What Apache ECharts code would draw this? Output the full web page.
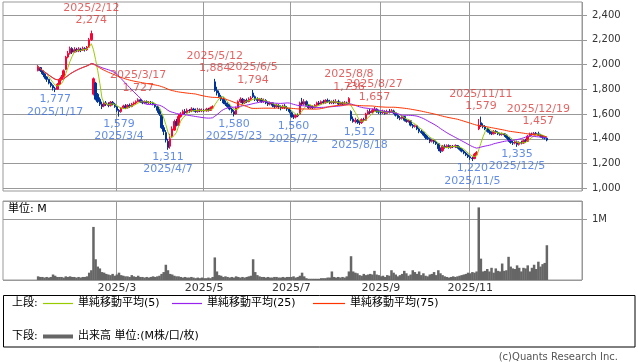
<!DOCTYPE html>
<html><head><meta charset="utf-8">
<script src="https://cdn.jsdelivr.net/npm/echarts@6/dist/echarts.min.js"></script>
<style>html,body{margin:0;padding:0;background:#fff}#c{width:638px;height:362px}</style>
</head><body><div id="c"></div>
<script>
// Trading days of 2025 per month (Jan..Dec)
const monthDays = [
 [6,7,8,9,10,14,15,16,17,20,21,22,23,24,27,28,29,30,31],
 [3,4,5,6,7,10,12,13,14,17,18,19,20,21,25,26,27,28],
 [3,4,5,6,7,10,11,12,13,14,17,18,19,21,24,25,26,27,28,31],
 [1,2,3,4,7,8,9,10,11,14,15,16,17,18,21,22,23,24,25,28,30],
 [1,2,7,8,9,12,13,14,15,16,19,20,21,22,23,26,27,28,29,30],
 [2,3,4,5,6,9,10,11,12,13,16,17,18,19,20,23,24,25,26,27,30],
 [1,2,3,4,7,8,9,10,11,14,15,16,17,18,22,23,24,25,28,29,30,31],
 [1,4,5,6,7,8,12,13,14,15,18,19,20,21,22,25,26,27,28,29],
 [1,2,3,4,5,8,9,10,11,12,16,17,18,19,22,24,25,26,29,30],
 [1,2,3,6,7,8,9,10,14,15,16,17,20,21,22,23,24,27,28,29,30,31],
 [4,5,6,7,10,11,12,13,14,17,18,19,20,21,25,26,27,28],
 [1,2,3,4,5,8,9,10,11,12,15,16,17,18,19,22,23,24,25]
];
const xTickLabels = ['2025/3','2025/5','2025/7','2025/9','2025/11'];
const priceTicks = [1000,1200,1400,1600,1800,2000,2200,2400];

const opens = [
 1950,1975,1950,1925,1900,1880,1850,1830,1805,1800,1840,1880,1900,1960,2060,2090,2130,2100,2120,
 2110,2125,2115,2130,2120,2140,2200,1760,1850,1760,1720,1680,1665,1690,1680,1670,1695,1680,
 1660,1630,1620,1650,1665,1650,1670,1660,1680,1690,1700,1715,1700,1690,1700,1690,1695,1690,1680,1660,
 1630,1590,1490,1450,1380,1340,1420,1470,1540,1510,1580,1600,1620,1610,1630,1625,1640,1630,1620,1635,1625,
 1630,1625,1640,1630,1650,1860,1790,1770,1740,1720,1690,1680,1660,1640,1620,1600,1650,1700,1720,1690,
 1710,1700,1720,1770,1740,1720,1710,1720,1700,1710,1690,1680,1690,1670,1660,1670,1660,1650,1665,1650,1640,
 1610,1580,1575,1590,1600,1700,1680,1700,1670,1650,1660,1650,1670,1690,1680,1700,1690,1710,1700,1690,1700,1690,
 1700,1680,1690,1680,1690,1685,1620,1560,1540,1550,1535,1530,1555,1550,1600,1620,1610,1630,1640,1620,
 1615,1610,1620,1605,1620,1615,1625,1610,1590,1570,1565,1580,1550,1540,1545,1510,1500,1505,1480,1460,
 1450,1430,1410,1400,1380,1390,1375,1360,1320,1305,1340,1335,1345,1330,1340,1335,1345,1330,1315,1300,1285,1270,
 1255,1245,1240,1275,1480,1530,1505,1500,1480,1460,1450,1440,1460,1450,1440,1435,1440,1430,
 1410,1390,1370,1365,1375,1355,1370,1365,1385,1380,1420,1440,1435,1445,1440,1430,1420,1410,1405
];
const closes = [
 1985,1950,1925,1900,1880,1850,1830,1810,1800,1840,1880,1900,1950,2060,2090,2130,2100,2120,2110,
 2125,2115,2130,2120,2140,2200,2250,1885,1720,1700,1680,1660,1690,1680,1670,1695,1680,1660,
 1630,1620,1650,1665,1650,1670,1660,1680,1690,1700,1715,1700,1690,1700,1690,1695,1690,1680,1660,1630,
 1600,1490,1460,1390,1330,1400,1480,1540,1510,1580,1600,1620,1610,1630,1625,1640,1630,1620,1635,1625,1630,
 1625,1640,1630,1650,1660,1790,1770,1740,1720,1690,1680,1660,1640,1620,1600,1650,1700,1720,1690,1710,
 1700,1720,1730,1740,1720,1710,1720,1700,1710,1690,1680,1690,1670,1660,1670,1660,1650,1665,1650,1640,1620,
 1580,1575,1590,1585,1690,1680,1700,1670,1650,1660,1650,1670,1690,1680,1700,1690,1710,1700,1690,1700,1690,1700,
 1680,1690,1680,1690,1685,1725,1560,1540,1550,1535,1530,1555,1550,1600,1620,1610,1630,1640,1620,1615,
 1610,1620,1605,1620,1615,1625,1610,1590,1570,1565,1580,1550,1540,1545,1510,1500,1505,1480,1460,1450,
 1430,1410,1400,1380,1390,1375,1360,1320,1300,1340,1335,1345,1330,1340,1335,1345,1330,1315,1300,1285,1270,1255,
 1245,1240,1275,1290,1510,1505,1500,1480,1460,1450,1440,1460,1450,1440,1435,1440,1430,1410,
 1390,1370,1365,1375,1355,1370,1365,1385,1380,1420,1440,1435,1445,1440,1430,1420,1410,1405,1390
];
const lows = [
 1945,1940,1915,1885,1860,1840,1815,1790,1777,1795,1835,1870,1895,1955,2050,2080,2085,2095,2100,
 2100,2100,2110,2105,2110,2135,2190,1750,1710,1690,1665,1640,1655,1665,1655,1660,1670,1650,
 1615,1579,1610,1640,1640,1645,1650,1655,1670,1680,1695,1690,1680,1680,1685,1680,1680,1670,1650,1610,
 1585,1480,1430,1370,1311,1320,1410,1465,1500,1505,1570,1590,1600,1605,1610,1615,1620,1610,1610,1615,1615,
 1615,1620,1620,1625,1640,1780,1750,1730,1705,1680,1665,1650,1630,1605,1580,1595,1645,1690,1680,1680,
 1690,1695,1710,1730,1705,1695,1700,1690,1690,1680,1665,1670,1655,1645,1650,1640,1630,1640,1640,1625,1605,
 1570,1560,1565,1575,1595,1665,1670,1660,1640,1640,1640,1645,1660,1670,1675,1680,1685,1690,1680,1680,1680,1685,
 1670,1670,1670,1675,1675,1680,1545,1530,1525,1520,1512,1520,1540,1545,1595,1600,1605,1620,1610,1600,
 1595,1600,1595,1600,1605,1610,1600,1580,1560,1550,1555,1540,1530,1530,1500,1485,1490,1470,1445,1440,
 1420,1395,1390,1365,1370,1360,1350,1300,1285,1295,1320,1325,1320,1320,1325,1325,1320,1305,1290,1275,1260,1245,
 1230,1220,1235,1265,1470,1495,1485,1470,1450,1435,1430,1435,1440,1430,1425,1425,1415,1400,
 1375,1360,1350,1355,1335,1345,1355,1360,1370,1375,1415,1425,1430,1430,1425,1410,1400,1395,1380
];
const highs = [
 1995,1980,1955,1930,1905,1885,1860,1840,1820,1850,1890,1915,1960,2070,2110,2145,2140,2140,2135,
 2140,2135,2145,2140,2150,2215,2274,1895,1860,1770,1735,1700,1700,1705,1695,1705,1705,1690,
 1665,1640,1655,1675,1680,1680,1685,1690,1700,1710,1727,1720,1710,1710,1710,1705,1705,1700,1690,1665,
 1640,1595,1510,1470,1400,1440,1500,1555,1560,1600,1615,1635,1640,1645,1640,1655,1650,1645,1650,1645,1645,
 1640,1650,1650,1660,1670,1884,1820,1790,1755,1735,1710,1695,1680,1650,1635,1660,1710,1735,1730,1720,
 1725,1735,1745,1794,1750,1735,1730,1730,1725,1720,1700,1700,1695,1680,1685,1680,1670,1675,1680,1665,1650,
 1620,1595,1600,1605,1700,1730,1720,1710,1680,1675,1670,1680,1700,1705,1710,1715,1720,1725,1715,1710,1715,1720,
 1715,1700,1700,1705,1700,1736,1630,1580,1570,1560,1550,1565,1570,1610,1635,1640,1645,1657,1645,1635,
 1630,1635,1630,1635,1640,1640,1635,1615,1600,1585,1590,1585,1560,1555,1550,1520,1515,1510,1490,1475,
 1460,1440,1425,1410,1400,1400,1385,1365,1330,1350,1355,1355,1355,1350,1350,1355,1350,1340,1325,1310,1295,1280,
 1265,1255,1285,1300,1560,1579,1525,1510,1490,1475,1460,1470,1470,1460,1450,1450,1445,1435,
 1415,1400,1385,1385,1385,1380,1385,1395,1400,1430,1450,1450,1455,1455,1457,1440,1430,1420,1410
];
const volumes = [
 0.06,0.05,0.05,0.04,0.05,0.04,0.05,0.09,0.07,0.05,0.05,0.05,0.04,0.06,0.05,0.06,0.05,0.05,0.04,
 0.05,0.04,0.05,0.05,0.06,0.12,0.16,0.87,0.34,0.22,0.19,0.13,0.12,0.10,0.09,0.08,0.10,0.07,
 0.09,0.12,0.08,0.07,0.06,0.06,0.05,0.08,0.06,0.05,0.07,0.05,0.05,0.04,0.05,0.04,0.05,0.06,0.05,0.06,
 0.07,0.10,0.13,0.25,0.16,0.10,0.09,0.07,0.06,0.06,0.05,0.04,0.05,0.04,0.04,0.05,0.04,0.03,0.04,0.03,0.04,
 0.03,0.03,0.04,0.03,0.05,0.37,0.14,0.08,0.07,0.05,0.06,0.05,0.04,0.05,0.04,0.06,0.05,0.04,0.05,0.04,
 0.05,0.06,0.07,0.34,0.13,0.08,0.06,0.05,0.05,0.04,0.05,0.04,0.04,0.05,0.05,0.04,0.04,0.05,0.04,0.05,0.05,
 0.05,0.06,0.04,0.05,0.07,0.12,0.06,0.03,0.02,0.02,0.02,0.02,0.02,0.02,0.03,0.03,0.03,0.04,0.04,0.14,0.05,0.04,
 0.05,0.04,0.05,0.04,0.06,0.14,0.39,0.14,0.12,0.11,0.08,0.07,0.10,0.08,0.09,0.10,0.09,0.15,0.09,0.08,
 0.06,0.07,0.05,0.08,0.07,0.16,0.12,0.09,0.06,0.08,0.10,0.15,0.11,0.07,0.09,0.16,0.13,0.10,0.14,0.08,
 0.11,0.07,0.06,0.09,0.10,0.13,0.08,0.16,0.11,0.08,0.06,0.05,0.04,0.05,0.06,0.05,0.06,0.07,0.08,0.09,0.10,0.12,
 0.11,0.13,0.12,0.14,1.19,0.35,0.14,0.15,0.18,0.14,0.20,0.12,0.19,0.15,0.14,0.27,0.15,0.16,
 0.38,0.22,0.19,0.18,0.24,0.20,0.14,0.20,0.19,0.24,0.14,0.20,0.25,0.18,0.30,0.22,0.26,0.28,0.57
];
const highMarks = [['2025/2/12',2274],['2025/3/17',1727],['2025/5/12',1884],['2025/6/5',1794],
 ['2025/8/8',1736],['2025/8/27',1657],['2025/11/11',1579],['2025/12/19',1457]];
const lowMarks = [['2025/1/17',1777],['2025/3/4',1579],['2025/4/7',1311],['2025/5/23',1580],
 ['2025/7/2',1560],['2025/8/18',1512],['2025/11/5',1220],['2025/12/5',1335]];

const PAD_L = 16, PAD_R = 16;
const dates = [];
monthDays.forEach((arr, m) => arr.forEach(d => dates.push('2025/' + (m + 1) + '/' + d)));
const cats = [];
for (let i = 0; i < PAD_L; i++) cats.push('pl' + i);
dates.forEach(d => cats.push(d));
for (let i = 0; i < PAD_R; i++) cats.push('pr' + i);
const monthStart = {};
monthDays.forEach((arr, m) => { monthStart['2025/' + (m + 1) + '/' + arr[0]] = '2025/' + (m + 1); });
const isTickCat = (idx, v) => monthStart[v] !== undefined && xTickLabels.indexOf(monthStart[v]) >= 0;

function sma(n) {
  return closes.map((c, i) => {
    const s = Math.max(0, i - n + 1); let sum = 0;
    for (let k = s; k <= i; k++) sum += closes[k];
    return [i + PAD_L, sum / (i - s + 1)];
  });
}
const candleData = closes.map((c, i) => [i + PAD_L, opens[i], c, lows[i], highs[i]]);
const volData = volumes.map((v, i) => [i + PAD_L, v]);
const fmt = v => Number(v).toLocaleString('en-US');
const FONT = '"DejaVu Sans","Noto Sans CJK JP",sans-serif';
const RED_T = '#dc3c3c', BLUE_T = '#3c70e0';
const C5 = '#99cc00', C25 = '#9922ee', C75 = '#ff3300';

const chart = echarts.init(document.getElementById('c'), null, { renderer: 'canvas' });
const gridL = 3, gridW = 579;
const catAxisBase = { type: 'category', data: cats, boundaryGap: true,
  axisLine: { show: false }, axisTick: { show: false } };

function legendText(x, y, t) {
  return { type: 'text', x: x, y: y, style: { text: t, font: '11px ' + FONT, fill: '#000', verticalAlign: 'middle' } };
}
function legendLine(x1, x2, y, h, color) {
  return { type: 'rect', shape: { x: x1, y: y - h / 2, width: x2 - x1, height: h }, style: { fill: color, stroke: null } };
}

chart.setOption({
  animation: false,
  textStyle: { fontFamily: FONT },
  grid: [
    { left: gridL, width: gridW, top: 15, height: 173.3 },
    { left: gridL, width: gridW, top: 2, height: 189, show: true, borderColor: '#999', borderWidth: 1, backgroundColor: 'transparent' },
    { left: gridL, width: gridW, top: 201, height: 79, show: true, borderColor: '#999', borderWidth: 1 }
  ],
  xAxis: [
    Object.assign({}, catAxisBase, { gridIndex: 0, show: false }),
    Object.assign({}, catAxisBase, { gridIndex: 1, axisLabel: { show: false },
      splitLine: { show: true, interval: isTickCat, lineStyle: { color: '#999', width: 1 } } }),
    Object.assign({}, catAxisBase, { gridIndex: 2,
      axisLabel: { show: true, interval: isTickCat, formatter: v => monthStart[v] || '', fontSize: 11, color: '#333', margin: 3, fontFamily: FONT },
      splitLine: { show: true, interval: isTickCat, lineStyle: { color: '#999', width: 1 } } })
  ],
  yAxis: [
    { gridIndex: 0, type: 'value', position: 'right', min: priceTicks[0], max: priceTicks[priceTicks.length - 1], interval: 200,
      axisLine: { show: false }, axisTick: { show: true, length: 5, lineStyle: { color: '#999' } },
      axisLabel: { fontSize: 10, color: '#333', margin: 10, formatter: fmt, fontFamily: FONT },
      splitLine: { show: true, lineStyle: { color: '#999', width: 1 } } },
    { gridIndex: 1, type: 'value', show: false, min: 0, max: 1 },
    { gridIndex: 2, type: 'value', position: 'right', min: 0, max: 1.295, interval: 1,
      axisLine: { show: false }, axisTick: { show: true, length: 5, lineStyle: { color: '#999' } },
      axisLabel: { fontSize: 10, color: '#333', margin: 10, showMaxLabel: false, showMinLabel: false,
        formatter: v => (Math.abs(v - 1) < 1e-9 ? '1M' : ''), fontFamily: FONT },
      splitLine: { show: true, lineStyle: { color: '#999', width: 1 } } }
  ],
  series: [
    { type: 'candlestick', xAxisIndex: 0, yAxisIndex: 0, data: candleData,
      encode: { x: 0, y: [1, 2, 3, 4] }, barWidth: 2, silent: true,
      itemStyle: { color: '#ff0033', color0: '#003399', borderColor: '#ff0033', borderColor0: '#003399', borderWidth: 1 } },
    { type: 'line', name: 'MA5', xAxisIndex: 0, yAxisIndex: 0, data: sma(5), showSymbol: false, silent: true,
      lineStyle: { color: C5, width: 1 } },
    { type: 'line', name: 'MA25', xAxisIndex: 0, yAxisIndex: 0, data: sma(25), showSymbol: false, silent: true,
      lineStyle: { color: C25, width: 1 } },
    { type: 'line', name: 'MA75', xAxisIndex: 0, yAxisIndex: 0, data: sma(75), showSymbol: false, silent: true,
      lineStyle: { color: C75, width: 1 } },
    { type: 'scatter', xAxisIndex: 0, yAxisIndex: 0, symbolSize: 0, silent: true, clip: false,
      data: highMarks.map(m => [dates.indexOf(m[0]) + PAD_L, m[1], m[0]]),
      label: { show: true, position: 'top', distance: 4, color: RED_T, fontSize: 11, lineHeight: 12.5, align: 'center',
        fontFamily: FONT, formatter: p => p.data[2] + '\n' + fmt(p.data[1]) } },
    { type: 'scatter', xAxisIndex: 0, yAxisIndex: 0, symbolSize: 0, silent: true, clip: false,
      data: lowMarks.map(m => [dates.indexOf(m[0]) + PAD_L, m[1], m[0]]),
      label: { show: true, position: 'bottom', distance: 1, color: BLUE_T, fontSize: 11, lineHeight: 12.5, align: 'center',
        fontFamily: FONT, formatter: p => fmt(p.data[1]) + '\n' + p.data[2] } },
    { type: 'bar', xAxisIndex: 2, yAxisIndex: 2, data: volData, barWidth: 2.5, silent: true,
      itemStyle: { color: '#666666' } }
  ],
  graphic: [
    { type: 'text', left: 8, top: 204, style: { text: '単位: M', font: '11px ' + FONT, fill: '#000' } },
    { type: 'rect', shape: { x: 3.5, y: 295.5, width: 631.5, height: 51.5 }, style: { fill: 'none', stroke: '#000', lineWidth: 1 } },
    legendText(12, 303.5, '上段:'),
    legendLine(43, 73, 303.5, 1.2, C5),
    legendText(78, 303.5, '単純移動平均(5)'),
    legendLine(172, 202, 303.5, 1.2, C25),
    legendText(207, 303.5, '単純移動平均(25)'),
    legendLine(313, 345, 303.5, 1.2, C75),
    legendText(350, 303.5, '単純移動平均(75)'),
    legendText(12, 336.5, '下段:'),
    legendLine(43, 73, 336.5, 4, '#666666'),
    legendText(78, 336.5, '出来高 単位:(M株/口/枚)'),
    { type: 'text', x: 618, y: 357, style: { text: '(c)Quants Research Inc.', font: '10px ' + FONT, fill: '#555', align: 'right', verticalAlign: 'middle' } }
  ]
});
</script></body></html>
